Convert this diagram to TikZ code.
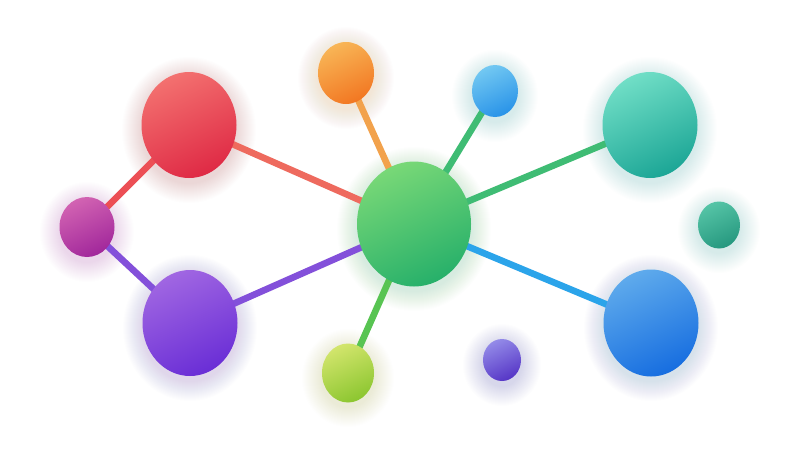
\documentclass[tikz,border=0pt]{standalone}
\usetikzlibrary{shapes.geometric}
\pgfdeclarelayer{bg}
\pgfdeclarelayer{glow}
\pgfdeclarelayer{edges}
\pgfsetlayers{bg,glow,edges,main}
\definecolor{redA}{HTML}{F3706F}\definecolor{redB}{HTML}{DF2A45}
\definecolor{magA}{HTML}{D263B2}\definecolor{magB}{HTML}{A1279B}
\definecolor{purA}{HTML}{A066E2}\definecolor{purB}{HTML}{6A2ED6}
\definecolor{orgA}{HTML}{F8B556}\definecolor{orgB}{HTML}{F27722}
\definecolor{grnA}{HTML}{78D877}\definecolor{grnB}{HTML}{27B06A}
\definecolor{lbA}{HTML}{72C8F2}\definecolor{lbB}{HTML}{2993E8}
\definecolor{tlA}{HTML}{70DEC6}\definecolor{tlB}{HTML}{1CA696}
\definecolor{stA}{HTML}{55C4A6}\definecolor{stB}{HTML}{26987F}
\definecolor{blA}{HTML}{5EAAEC}\definecolor{blB}{HTML}{176EE0}
\definecolor{limA}{HTML}{D2E56C}\definecolor{limB}{HTML}{8CC630}
\definecolor{spA}{HTML}{938AE8}\definecolor{spB}{HTML}{5636C6}
\definecolor{eRed}{HTML}{EC4F55}
\definecolor{eRG}{HTML}{EE6A5E}
\definecolor{ePur}{HTML}{8350DA}
\definecolor{eOrg}{HTML}{F2A24C}
\definecolor{eGrn}{HTML}{3FBC74}
\definecolor{eBlu}{HTML}{2BA4EA}
\definecolor{eLim}{HTML}{58C452}
\tikzset{
  ball/.style 2 args={ellipse, draw=none, inner sep=0pt, top color=#1, bottom color=#2, shading angle=25},
  link/.style={line width=6.6pt, line cap=butt},
}
\begin{document}
\begin{tikzpicture}[x=1pt,y=-1pt]
\begin{pgfonlayer}{bg}
\fill[white] (0,0) rectangle (800,450);
\end{pgfonlayer}
\useasboundingbox (0,0) rectangle (800,450);

\node[ball={redA}{redB}, minimum width=95pt, minimum height=106pt] (red) at (189,125) {};
\node[ball={magA}{magB}, minimum width=55pt, minimum height=60pt] (mag) at (87,227) {};
\node[ball={purA}{purB}, minimum width=95pt, minimum height=106pt] (pur) at (190,323) {};
\node[ball={orgA}{orgB}, minimum width=56pt, minimum height=62pt] (org) at (346,73) {};
\node[ball={grnA}{grnB}, minimum width=114pt, minimum height=125pt] (grn) at (414,224) {};
\node[ball={lbA}{lbB}, minimum width=46pt, minimum height=52pt] (lb) at (495,91) {};
\node[ball={tlA}{tlB}, minimum width=95pt, minimum height=106pt] (tl) at (650,125) {};
\node[ball={stA}{stB}, minimum width=42pt, minimum height=47pt] (st) at (719,225) {};
\node[ball={blA}{blB}, minimum width=95pt, minimum height=107pt] (bl) at (651,323) {};
\node[ball={limA}{limB}, minimum width=52pt, minimum height=59pt] (lim) at (348,373) {};
\node[ball={spA}{spB}, minimum width=38pt, minimum height=42pt] (sp) at (502,360) {};

\begin{pgfonlayer}{edges}
  \draw[link, eRed] (red.center) -- (mag.center);
  \draw[link, ePur] (mag.center) -- (pur.center);
  \draw[link, eRG] (red.center) -- (grn.center);
  \draw[link, ePur] (pur.center) -- (grn.center);
  \draw[link, eOrg] (org.center) -- (grn.center);
  \draw[link, eGrn] (lb.center) -- (grn.center);
  \draw[link, eGrn] (tl.center) -- (grn.center);
  \draw[link, eBlu] (bl.center) -- (grn.center);
  \draw[link, eLim] (lim.center) -- (grn.center);
\end{pgfonlayer}

\begin{pgfonlayer}{glow}
  \foreach \n/\c/\rx/\ry in {red/redB/47/53, mag/magB/27/30, pur/purB/47/53,
      org/orgB/28/31, grn/grnB/57/62, lb/lbB/23/26, tl/tlB/47/53,
      st/stB/21/23, bl/blB/47/53, lim/limB/26/29, sp/spB/19/21}{
    \foreach \k in {1,...,20}{
      \fill[\c, opacity=0.008] ([yshift=-5pt]\n.center) ellipse [x radius=\rx+\k, y radius=\ry+\k];
    }
  }
\end{pgfonlayer}
\end{tikzpicture}
\end{document}
